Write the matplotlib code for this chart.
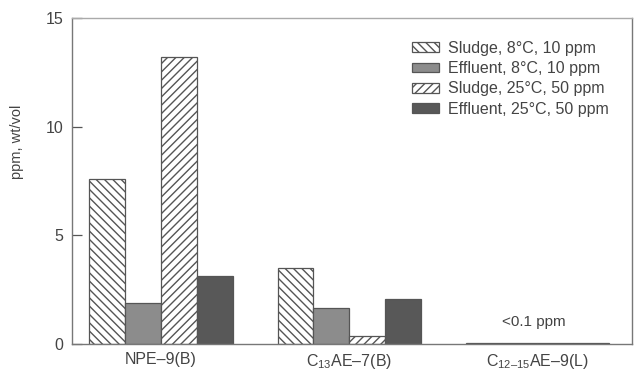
import matplotlib.pyplot as plt
import numpy as np

plt.rcParams['font.family'] = ['Liberation Sans', 'DejaVu Sans']
plt.rcParams['mathtext.fontset'] = 'custom'
plt.rcParams['mathtext.rm'] = 'Liberation Sans'
plt.rcParams['mathtext.it'] = 'Liberation Sans:italic'
plt.rcParams['hatch.linewidth'] = 1.0

# surfactant groups and measured concentrations (ppm, wt/vol)
compounds = ["NPE\u20139(B)", "C$_{13}$AE\u20137(B)", "C$_{12\u201315}$AE\u20139(L)"]
series = [
    "Sludge, 8\u00b0C, 10 ppm",
    "Effluent, 8\u00b0C, 10 ppm",
    "Sludge, 25\u00b0C, 50 ppm",
    "Effluent, 25\u00b0C, 50 ppm",
]
sludge_8c = [7.6, 3.5, 0.05]
effluent_8c = [1.9, 1.65, 0.05]
sludge_25c = [13.2, 0.35, 0.05]
effluent_25c = [3.15, 2.05, 0.05]
y_ticks = [0, 5, 10, 15]

ink = "#444444"
fig = plt.figure(figsize=(6.34, 3.73), dpi=100)
ax = fig.add_axes([72 / 634, 29 / 373, 560 / 634, 326 / 373])

x = np.arange(len(compounds))
w = 0.19
styles = [
    dict(facecolor="white", hatch="\\\\\\\\"),
    dict(facecolor="#8c8c8c", hatch=None),
    dict(facecolor="white", hatch="////"),
    dict(facecolor="#585858", hatch=None),
]
values = [sludge_8c, effluent_8c, sludge_25c, effluent_25c]
for i, (vals, st, name) in enumerate(zip(values, styles, series)):
    ax.bar(x + (i - 1.5) * w, vals, w, label=name, edgecolor="#555555",
           linewidth=0.9, **st)

ax.text(x[2] - 0.02, 1.0, "<0.1 ppm", ha="center", va="center",
        fontsize=11, color=ink)

ax.set_xlim(-0.473, 2.503)
ax.set_ylim(0, 15)
ax.set_yticks(y_ticks)
ax.set_xticks(x)
ax.set_xticklabels(compounds)
ax.tick_params(axis="x", length=0, pad=6, labelsize=11.5, labelcolor=ink)
ax.tick_params(axis="y", direction="in", length=7, width=0.9, color="#555555",
               pad=6, labelsize=11.5, labelcolor=ink)
ax.set_ylabel("ppm, wt/vol", fontsize=10.5, color=ink)
ax.yaxis.set_label_coords(-0.085, 0.62)

for side, sp in ax.spines.items():
    sp.set_color("#777777")
    sp.set_linewidth(1.0)
ax.spines["top"].set_color("#aaaaaa")

leg = ax.legend(loc="upper left", bbox_to_anchor=(0.607, 0.93), frameon=False,
                fontsize=11.5, handlelength=1.7, handleheight=0.55,
                handletextpad=0.55, labelspacing=0.33, borderaxespad=0,
                borderpad=0)
for t in leg.get_texts():
    t.set_color(ink)

fig.savefig("out.png", dpi=100)
